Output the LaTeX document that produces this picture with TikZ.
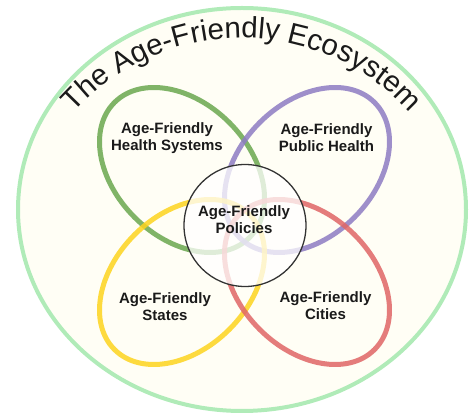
\documentclass[tikz,border=0pt]{standalone}
\usepackage{fontspec}
\setsansfont{Liberation Sans}
\usetikzlibrary{decorations.text, positioning, calc}

\definecolor{ringgreen}{RGB}{176,235,184}
\definecolor{creambg}{RGB}{255,254,245}
\definecolor{agegreen}{RGB}{106,168,79}
\definecolor{agepurple}{RGB}{142,124,195}
\definecolor{ageyellow}{RGB}{253,212,30}
\definecolor{agered}{RGB}{224,102,102}
\definecolor{inkgray}{RGB}{26,26,26}

\tikzset{
  petal/.style={line width=5pt, draw opacity=0.85},
  petallabel/.style={font=\sffamily\bfseries\fontsize{15}{17}\selectfont, align=center, text=inkgray, inner sep=0pt},
}

\begin{document}
\begin{tikzpicture}[x=1pt, y=1pt]
        \useasboundingbox (0,0) rectangle (469,417);
        % outer ring
        \draw[line width=4pt, ringgreen, fill=creambg] (242,207.5) ellipse [x radius=224, y radius=201.5];
        % title on the arc
        \path[decorate, decoration={text along path, text align=center,
            text={|\sffamily\fontsize{29.5}{30}\selectfont\color{inkgray}|The Age-Friendly Ecosystem}}]
            (242,153) ++(145:226) arc[start angle=145, end angle=35, radius=226];
        % petals
        \coordinate (Cg) at (182,247);
        \coordinate (Cp) at (307,247);
        \coordinate (Cy) at (182,135);
        \coordinate (Cr) at (307,135);
        \draw[petal, agegreen, rotate around={-45:(Cg)}] (Cg) ellipse [x radius=95.5, y radius=67];
        \draw[petal, agepurple, rotate around={45:(Cp)}] (Cp) ellipse [x radius=95.5, y radius=67];
        \draw[petal, ageyellow, rotate around={45:(Cy)}] (Cy) ellipse [x radius=95.5, y radius=67];
        \draw[petal, agered, rotate around={-45:(Cr)}] (Cr) ellipse [x radius=95.5, y radius=67];
        % centre circle
        \node[draw=black!80, line width=1.3pt, circle, fill=white, fill opacity=0.75,
            minimum size=122pt, inner sep=0pt] (Npol) at (245,191.5) {};
        % labels
        \node[petallabel] (Lhs) at (167,278.5) {Age-Friendly\\Health Systems};
        \node[petallabel] (Lph) at (326.5,279.5) {Age-Friendly\\Public Health};
        \node[petallabel] (Lpol) at (244,197) {Age-Friendly\\Policies};
        \node[petallabel] (Lst) at (165,110.5) {Age-Friendly\\States};
        \node[petallabel] (Lci) at (325.5,111) {Age-Friendly\\Cities};
\end{tikzpicture}
\end{document}
